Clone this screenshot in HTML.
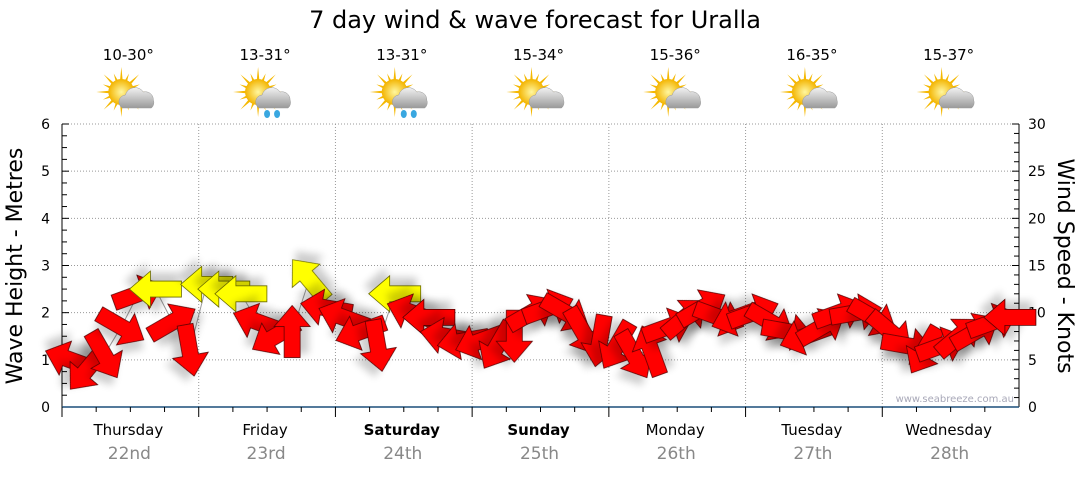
<!DOCTYPE html>
<html><head><meta charset="utf-8">
<style>
body{margin:0;background:#fff;font-family:"Liberation Sans","DejaVu Sans",sans-serif;}
svg text{font-family:"DejaVu Sans","Liberation Sans",sans-serif;}
</style></head>
<body>
<svg id="chart" width="1080" height="475" viewBox="0 0 1080 475" xmlns="http://www.w3.org/2000/svg">
<defs>
<filter id="sh" x="-50%" y="-50%" width="200%" height="200%"><feGaussianBlur in="SourceAlpha" stdDeviation="4"/><feOffset dx="4" dy="8"/><feComponentTransfer><feFuncA type="linear" slope="0.2"/></feComponentTransfer><feMerge><feMergeNode/><feMergeNode in="SourceGraphic"/></feMerge></filter>
<radialGradient id="sun" cx="50%" cy="50%" r="50%"><stop offset="0" stop-color="#fff7a0"/><stop offset="1" stop-color="#f3b400"/></radialGradient>
<linearGradient id="cloud" x1="0" y1="0" x2="0" y2="1"><stop offset="0" stop-color="#f2f2f2"/><stop offset="1" stop-color="#9a9a9a"/></linearGradient>
</defs>
<text x="535" y="28" font-size="24" text-anchor="middle" fill="#000">7 day wind &amp; wave forecast for Uralla</text>
<g id="grid"></g>
<g id="axes"></g>
<g id="icons"></g>
<g id="marks"></g>
<text transform="translate(22,266) rotate(-90)" font-size="22" text-anchor="middle">Wave Height - Metres</text>
<text transform="translate(1058,266) rotate(90)" font-size="22" text-anchor="middle">Wind Speed - Knots</text>
<text x="1014" y="402" font-size="10" fill="#a8a8b8" text-anchor="end">www.seabreeze.com.au</text>
</svg>
<script>
const days=["Thursday","Friday","Saturday","Sunday","Monday","Tuesday","Wednesday"];
const dates=["22nd","23rd","24th","25th","26th","27th","28th"];
const boldDays=[false,false,true,true,false,false,false];
const temps=["10-30°","13-31°","13-31°","15-34°","15-36°","16-35°","15-37°"];
const rain=[false,true,true,false,false,false,false];
const leftTicks=[0,1,2,3,4,5,6];
const rightTicks=[0,5,10,15,20,25,30];
// wind speed in knots, 8 readings per day (3-hourly)
const speeds=[5,4,5.5,8.5,12,12.5,9,6,
 13,12.5,12,9,7.5,8,13.5,10.5,
 9.5,8,6.5,12,10,9.5,7.5,7,
 7,6.5,7.5,10,10.5,10,8,7,
 6.5,5.5,6,8.5,9.5,10.5,9.5,9.5,
 10,9,8,7.5,8.5,10,10,9.5,
 8,6.5,6,6.5,7.5,8,9,9.5];
// arrow direction on screen, degrees (0 = pointing right, clockwise)
const dirs=[200,130,60,30,-20,180,-30,80,
 180,180,180,200,150,270,230,190,
 200,160,80,180,200,180,190,170,
 160,120,90,-30,-20,30,60,100,
 120,60,250,-20,-40,-30,20,160,
 -20,30,10,160,-30,-20,-10,30,
 40,10,120,-20,-40,-30,-20,180];
// 1 = light (yellow) easterly, 0 = red
const light=[0,0,0,0,0,1,0,0,
 1,1,1,0,0,0,1,0,
 0,0,0,1,0,0,0,0,
 0,0,0,0,0,0,0,0,
 0,0,0,0,0,0,0,0,
 0,0,0,0,0,0,0,0,
 0,0,0,0,0,0,0,0];

const X0=62,X1=1019,Y0=407,Y6=124;
const dayW=(X1-X0)/7;
const yL=v=>Y0-(Y0-Y6)*v/6;
const yR=v=>Y0-(Y0-Y6)*v/30;
const xT=i=>X0+dayW*(i/8)+8;
const NS="http://www.w3.org/2000/svg";
function mk(tag,attrs,parent){const e=document.createElementNS(NS,tag);for(const k in attrs)e.setAttribute(k,attrs[k]);parent.appendChild(e);return e;}
const grid=document.getElementById('grid'),axes=document.getElementById('axes'),icons=document.getElementById('icons'),marks=document.getElementById('marks');

leftTicks.forEach(v=>{
 if(v>0){const l=mk('line',{x1:X0,x2:X1,y1:yL(v),y2:yL(v),stroke:'#999','stroke-dasharray':'1,2'},grid);
 
 }
 const t=mk('text',{x:50,y:yL(v)+5,'font-size':14,'text-anchor':'end'},axes);t.textContent=v;
 
 
});
rightTicks.forEach(v=>{
 const t=mk('text',{x:1028,y:yR(v)+5,'font-size':14},axes);t.textContent=v;
 
 
});
for(let k=0;k<=24;k++){const y=yL(k/4);mk('line',{x1:X0,x2:X0+(k%4?5:7),y1:y,y2:y,stroke:'#000'},axes);}
for(let k=0;k<=30;k++){const y=yR(k);mk('line',{x1:X1-(k%5?5:7),x2:X1,y1:y,y2:y,stroke:'#000'},axes);}
mk('line',{x1:X0,x2:X0,y1:Y6,y2:Y0,stroke:'#000'},axes);
mk('line',{x1:X1,x2:X1,y1:Y6,y2:Y0,stroke:'#000'},axes);
mk('line',{x1:X0,x2:X1,y1:Y0,y2:Y0,stroke:'#1b4f7a','stroke-width':1.5},axes);
days.forEach((d,i)=>{
 const x=X0+dayW*i,cx=x+dayW/2;
 if(i>0){const g=mk('line',{x1:x,x2:x,y1:Y6,y2:Y0,stroke:'#999','stroke-dasharray':'1,2'},grid);
 
 }
 for(let k=0;k<4;k++){mk('line',{x1:x+dayW*k/4,x2:x+dayW*k/4,y1:Y0,y2:Y0+(k?5:10),stroke:'#000'},axes);}
 const t=mk('text',{x:cx-2,y:435,'font-size':15,'text-anchor':'middle','font-weight':boldDays[i]?'bold':'normal'},axes);t.textContent=d;
 
 
 const t2=mk('text',{x:cx-1,y:459,'font-size':17,'text-anchor':'middle',fill:'#888'},axes);t2.textContent=dates[i];
 
 
 const tt=mk('text',{x:cx-2,y:60,'font-size':15,'text-anchor':'middle'},icons);tt.textContent=temps[i];
 
 
 const g=mk('g',{transform:`translate(${cx-2},96)`},icons);
 
 
 for(let r=0;r<16;r++){const a=r*Math.PI/8,L=r%2?20:25;mk('polygon',{points:`${-7+Math.cos(a+0.15)*10},${-4+Math.sin(a+0.15)*10} ${-7+Math.cos(a)*L},${-4+Math.sin(a)*L} ${-7+Math.cos(a-0.15)*10},${-4+Math.sin(a-0.15)*10}`,fill:'#f5b800'},g);}
 mk('circle',{cx:-7,cy:-4,r:13,fill:'url(#sun)'},g);
 mk('path',{d:'M-6,12 a7,7 0 0 1 3,-13 a10,10 0 0 1 18,-3 a8,8 0 0 1 10,8 a7,7 0 0 1 -2,8 z',fill:'url(#cloud)',stroke:'#999','stroke-width':0.5},g);
 if(rain[i]){mk('ellipse',{cx:2,cy:18,rx:3,ry:4,fill:'#39a7e0'},g);mk('ellipse',{cx:12,cy:18,rx:3,ry:4,fill:'#39a7e0'},g);}
});
let pts=speeds.map((s,i)=>`${xT(i)},${yR(s)}`).join(' ');
const pl=mk('polyline',{points:pts,fill:'none',stroke:'#999','stroke-width':1},marks);


const arrow='M-26,-8 L5,-8 L5,-18 L26,0 L5,18 L5,8 L-26,8 Z';
speeds.forEach((s,i)=>{
 const p=mk('path',{d:arrow,transform:`translate(${xT(i)},${yR(s)}) rotate(${dirs[i]})`,fill:light[i]?'#ffff00':'#ff0000',stroke:light[i]?'#6b6b00':'#550000','stroke-width':0.8,filter:'url(#sh)'},marks);
 
 
});
</script>
</body></html>
